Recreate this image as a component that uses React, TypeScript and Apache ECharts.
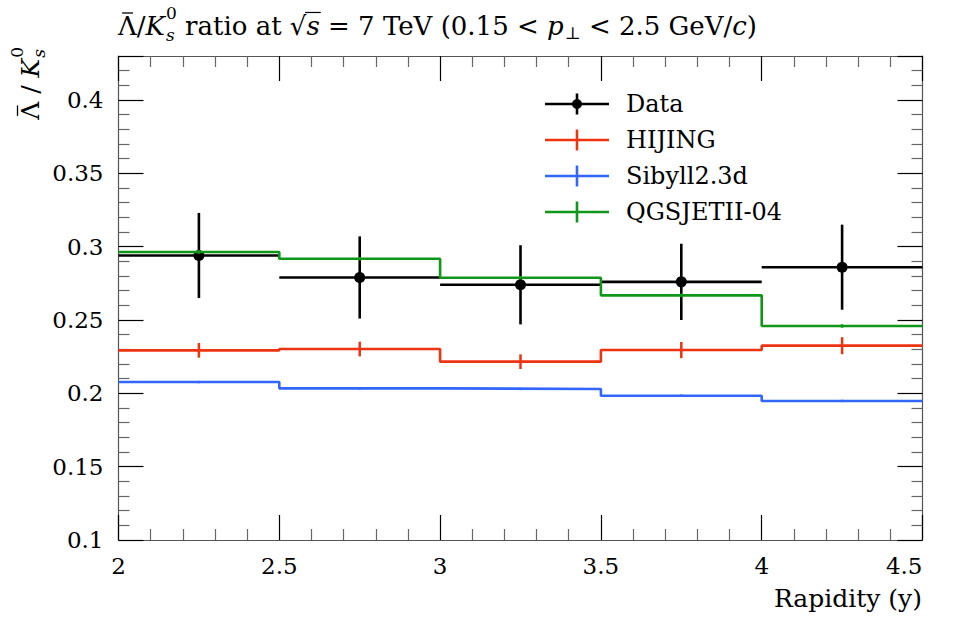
import React, { useEffect, useRef } from "react";
import * as echarts from "echarts";

const binEdges = [2, 2.5, 3, 3.5, 4, 4.5];
const dataValues = [0.294, 0.279, 0.274, 0.276, 0.286];
const dataErrors = [0.029, 0.028, 0.027, 0.026, 0.029];
const hijingValues = [0.2293, 0.2302, 0.2216, 0.2295, 0.2325];
const hijingErrors = [0.005, 0.005, 0.005, 0.0055, 0.0058];
const sibyllValues = [0.2077, 0.2034, 0.203, 0.1984, 0.1948];
const sibyllErrors = [0.0008, 0.0008, 0.0008, 0.0008, 0.0008];
const qgsValues = [0.2964, 0.2918, 0.2788, 0.2668, 0.2459];
const qgsErrors = [0.0012, 0.0012, 0.0012, 0.0012, 0.0012];
const legendLabels = ["Data", "HIJING", "Sibyll2.3d", "QGSJETII-04"];
const seriesColors = ["#000000", "#EE3311", "#3366FF", "#109618"];

const FONT = "DejaVu Serif";

type Tok = {
  t?: string;
  italic?: boolean;
  bar?: boolean;
  sub?: string;
  sup?: string;
  overStart?: boolean;
  overEnd?: boolean;
};

const titleTokens: Tok[] = [
  { t: "Λ", bar: true },
  { t: "/" },
  { t: "K", italic: true },
  { sub: "s", sup: "0" },
  { t: " ratio at " },
  { t: "√", overStart: true },
  { t: "s", italic: true, overEnd: true },
  { t: " = 7 TeV (0.15 < " },
  { t: "p", italic: true },
  { sub: "⊥" },
  { t: " < 2.5 GeV/" },
  { t: "c", italic: true },
  { t: ")" },
];

const yNameTokens: Tok[] = [
  { t: "Λ", bar: true },
  { t: " / " },
  { t: "K", italic: true },
  { sub: "s", sup: "0" },
];

let measureCtx: CanvasRenderingContext2D | null = null;
function measure(text: string, size: number, italic?: boolean) {
  if (!measureCtx) measureCtx = document.createElement("canvas").getContext("2d");
  if (!measureCtx) return text.length * size * 0.55;
  measureCtx.font = `${italic ? "italic " : ""}${size}px "${FONT}"`;
  return measureCtx.measureText(text).width;
}

function buildMath(tokens: Tok[], size: number) {
  const children: any[] = [];
  const s2 = Math.round(size * 0.66);
  let x = 0;
  let overX = 0;
  const mk = (text: string, px: number, py: number, sz: number, italic?: boolean) => ({
    type: "text",
    x: px,
    y: py,
    style: {
      text,
      fontSize: sz,
      fontFamily: FONT,
      fontStyle: italic ? "italic" : "normal",
      fill: "#000",
      align: "left",
      verticalAlign: "middle",
    },
  });
  tokens.forEach((tk) => {
    if (tk.t !== undefined) {
      const lead = tk.t.length - tk.t.replace(/^ +/, "").length;
      const body = tk.t.trim();
      const trail = tk.t.length - tk.t.replace(/ +$/, "").length;
      if (lead > 0) x += measure(" ".repeat(lead), size, tk.italic);
      const w = measure(body, size, tk.italic);
      children.push(mk(body, x, 0, size, tk.italic));
      if (tk.bar) {
        children.push({
          type: "line",
          shape: { x1: x + 0.22 * w, y1: -0.5 * size, x2: x + 0.8 * w, y2: -0.5 * size },
          style: { stroke: "#000", lineWidth: 1.3 },
        });
      }
      if (tk.overStart) overX = x + w * 0.92;
      x += w;
      if (tk.overEnd) {
        children.push({
          type: "line",
          shape: { x1: overX, y1: -0.52 * size, x2: x + 1, y2: -0.52 * size },
          style: { stroke: "#000", lineWidth: 1.2 },
        });
      }
      if (trail > 0) x += measure(" ".repeat(trail), size, tk.italic);
    } else {
      const subC = 0.5 * size - 0.35 * s2;
      const supC = -0.2 * size - 0.35 * s2;
      if (tk.sub && tk.sup) {
        const lh = Math.max(subC - supC, 1.28 * s2);
        const mid = (subC + supC) / 2;
        children.push(mk(tk.sup, x + 1, mid - lh / 2, s2, false));
        children.push(mk(tk.sub, x + 1, mid + lh / 2, s2, true));
        x += Math.max(measure(tk.sub, s2, true), measure(tk.sup, s2, false)) + 1;
      } else if (tk.sub) {
        children.push(mk(tk.sub, x + 1, subC, s2, false));
        x += measure(tk.sub, s2, false) + 1;
      }
    }
  });
  return { children, width: x };
}

function stepData(values: number[]) {
  return binEdges.map((e, i) => [e, values[Math.min(i, values.length - 1)]]);
}
function binRows(values: number[], errors: number[]) {
  return values.map((v, i) => [binEdges[i], binEdges[i + 1], v, errors[i]]);
}

function mcErrorSeries(name: string, values: number[], errors: number[], color: string) {
  return {
    type: "custom",
    name: name + " err",
    data: binRows(values, errors),
    encode: { x: [0, 1], y: [2, 3] },
    z: 4,
    renderItem: (params: any, api: any) => {
      const lo = api.value(0), hi = api.value(1), v = api.value(2), e = api.value(3);
      const xc = (lo + hi) / 2;
      const top = api.coord([xc, v + e]);
      const bot = api.coord([xc, v - e]);
      return {
        type: "line",
        shape: { x1: top[0], y1: top[1], x2: bot[0], y2: bot[1] },
        style: { stroke: color, lineWidth: 2.5 },
      };
    },
  };
}

function stepSeries(name: string, values: number[], color: string) {
  return {
    type: "line",
    name,
    step: "end",
    data: stepData(values),
    symbol: "none",
    z: 4,
    lineStyle: { color, width: 2.6 },
  };
}

export default function App() {
  const ref = useRef<HTMLDivElement>(null);
  useEffect(() => {
    if (!ref.current) return;
    const chart = echarts.init(ref.current, undefined, { renderer: "svg" });

    const axisCommon = {
      type: "value",
      splitLine: { show: false },
      axisLine: { show: true, lineStyle: { color: "#555", width: 1.2 } },
      axisTick: { show: true, inside: true, length: 25, lineStyle: { color: "#000", width: 1.2 } },
      minorTick: { show: true, splitNumber: 5, length: 11, lineStyle: { color: "#666", width: 1.2 } },
    };

    const legendRowsY = [104, 140, 176, 212];
    const legendGraphics: any[] = [];
    legendLabels.forEach((lab, i) => {
      const y = legendRowsY[i];
      const c = seriesColors[i];
      legendGraphics.push({
        type: "line",
        shape: { x1: 545, y1: y, x2: 609, y2: y },
        style: { stroke: c, lineWidth: 2.6 },
      });
      legendGraphics.push({
        type: "line",
        shape: { x1: 577, y1: y - 10.5, x2: 577, y2: y + 10.5 },
        style: { stroke: c, lineWidth: 2.6 },
      });
      if (i === 0) {
        legendGraphics.push({
          type: "circle",
          shape: { cx: 577, cy: y, r: 5 },
          style: { fill: c },
        });
      }
      legendGraphics.push({
        type: "text",
        x: 626,
        y: y,
        style: {
          text: lab,
          fontSize: 24,
          fontFamily: FONT,
          fill: "#000",
          verticalAlign: "middle",
          align: "left",
        },
      });
    });

    const title = buildMath(titleTokens, 26);
    const yName = buildMath(yNameTokens, 25);

    const option: any = {
      animation: false,
      backgroundColor: "#fff",
      grid: { left: 118.5, right: 30.5, top: 56, bottom: 80, containLabel: false },
      xAxis: [
        {
          ...axisCommon,
          min: 2,
          max: 4.5,
          interval: 0.5,
          position: "bottom",
          axisLabel: {
            show: true,
            margin: 14,
            fontSize: 23,
            fontFamily: FONT,
            color: "#000",
            alignMaxLabel: "right",
          },
        },
        {
          ...axisCommon,
          min: 2,
          max: 4.5,
          interval: 0.5,
          position: "top",
          axisLabel: { show: false },
        },
      ],
      yAxis: [
        {
          ...axisCommon,
          min: 0.1,
          max: 0.43,
          interval: 0.05,
          position: "left",
          axisLabel: {
            show: true,
            margin: 15,
            fontSize: 23,
            fontFamily: FONT,
            color: "#000",
            showMaxLabel: false,
          },
        },
        {
          ...axisCommon,
          min: 0.1,
          max: 0.43,
          interval: 0.05,
          position: "right",
          axisLabel: { show: false },
        },
      ],
      series: [
        {
          type: "custom",
          name: "Data",
          data: binRows(dataValues, dataErrors),
          encode: { x: [0, 1], y: [2, 3] },
          z: 3,
          renderItem: (params: any, api: any) => {
            const lo = api.value(0), hi = api.value(1), v = api.value(2), e = api.value(3);
            const xc = (lo + hi) / 2;
            const l = api.coord([lo, v]);
            const r = api.coord([hi, v]);
            const c = api.coord([xc, v]);
            const top = api.coord([xc, v + e]);
            const bot = api.coord([xc, v - e]);
            return {
              type: "group",
              children: [
                { type: "line", shape: { x1: l[0], y1: l[1], x2: r[0], y2: r[1] }, style: { stroke: "#000", lineWidth: 2.6 } },
                { type: "line", shape: { x1: top[0], y1: top[1], x2: bot[0], y2: bot[1] }, style: { stroke: "#000", lineWidth: 2.6 } },
                { type: "circle", shape: { cx: c[0], cy: c[1], r: 5.5 }, style: { fill: "#000" } },
              ],
            };
          },
        },
        stepSeries("HIJING", hijingValues, seriesColors[1]),
        mcErrorSeries("HIJING", hijingValues, hijingErrors, seriesColors[1]),
        stepSeries("Sibyll2.3d", sibyllValues, seriesColors[2]),
        mcErrorSeries("Sibyll2.3d", sibyllValues, sibyllErrors, seriesColors[2]),
        stepSeries("QGSJETII-04", qgsValues, seriesColors[3]),
        mcErrorSeries("QGSJETII-04", qgsValues, qgsErrors, seriesColors[3]),
      ],
      graphic: [
        {
          type: "group",
          x: 118,
          y: 26,
          children: title.children,
        },
        {
          type: "group",
          x: 30,
          y: 47 + yName.width,
          rotation: Math.PI / 2,
          children: yName.children,
        },
        {
          type: "text",
          x: 922,
          y: 598,
          style: {
            text: "Rapidity (y)",
            fontSize: 25,
            fontFamily: FONT,
            fill: "#000",
            verticalAlign: "middle",
            align: "right",
          },
        },
        ...legendGraphics,
      ],
    };
    chart.setOption(option);
    return () => chart.dispose();
  }, []);
  return <div ref={ref} style={{ width: 953, height: 620, position: "absolute", left: 0, top: 0 }} />;
}
